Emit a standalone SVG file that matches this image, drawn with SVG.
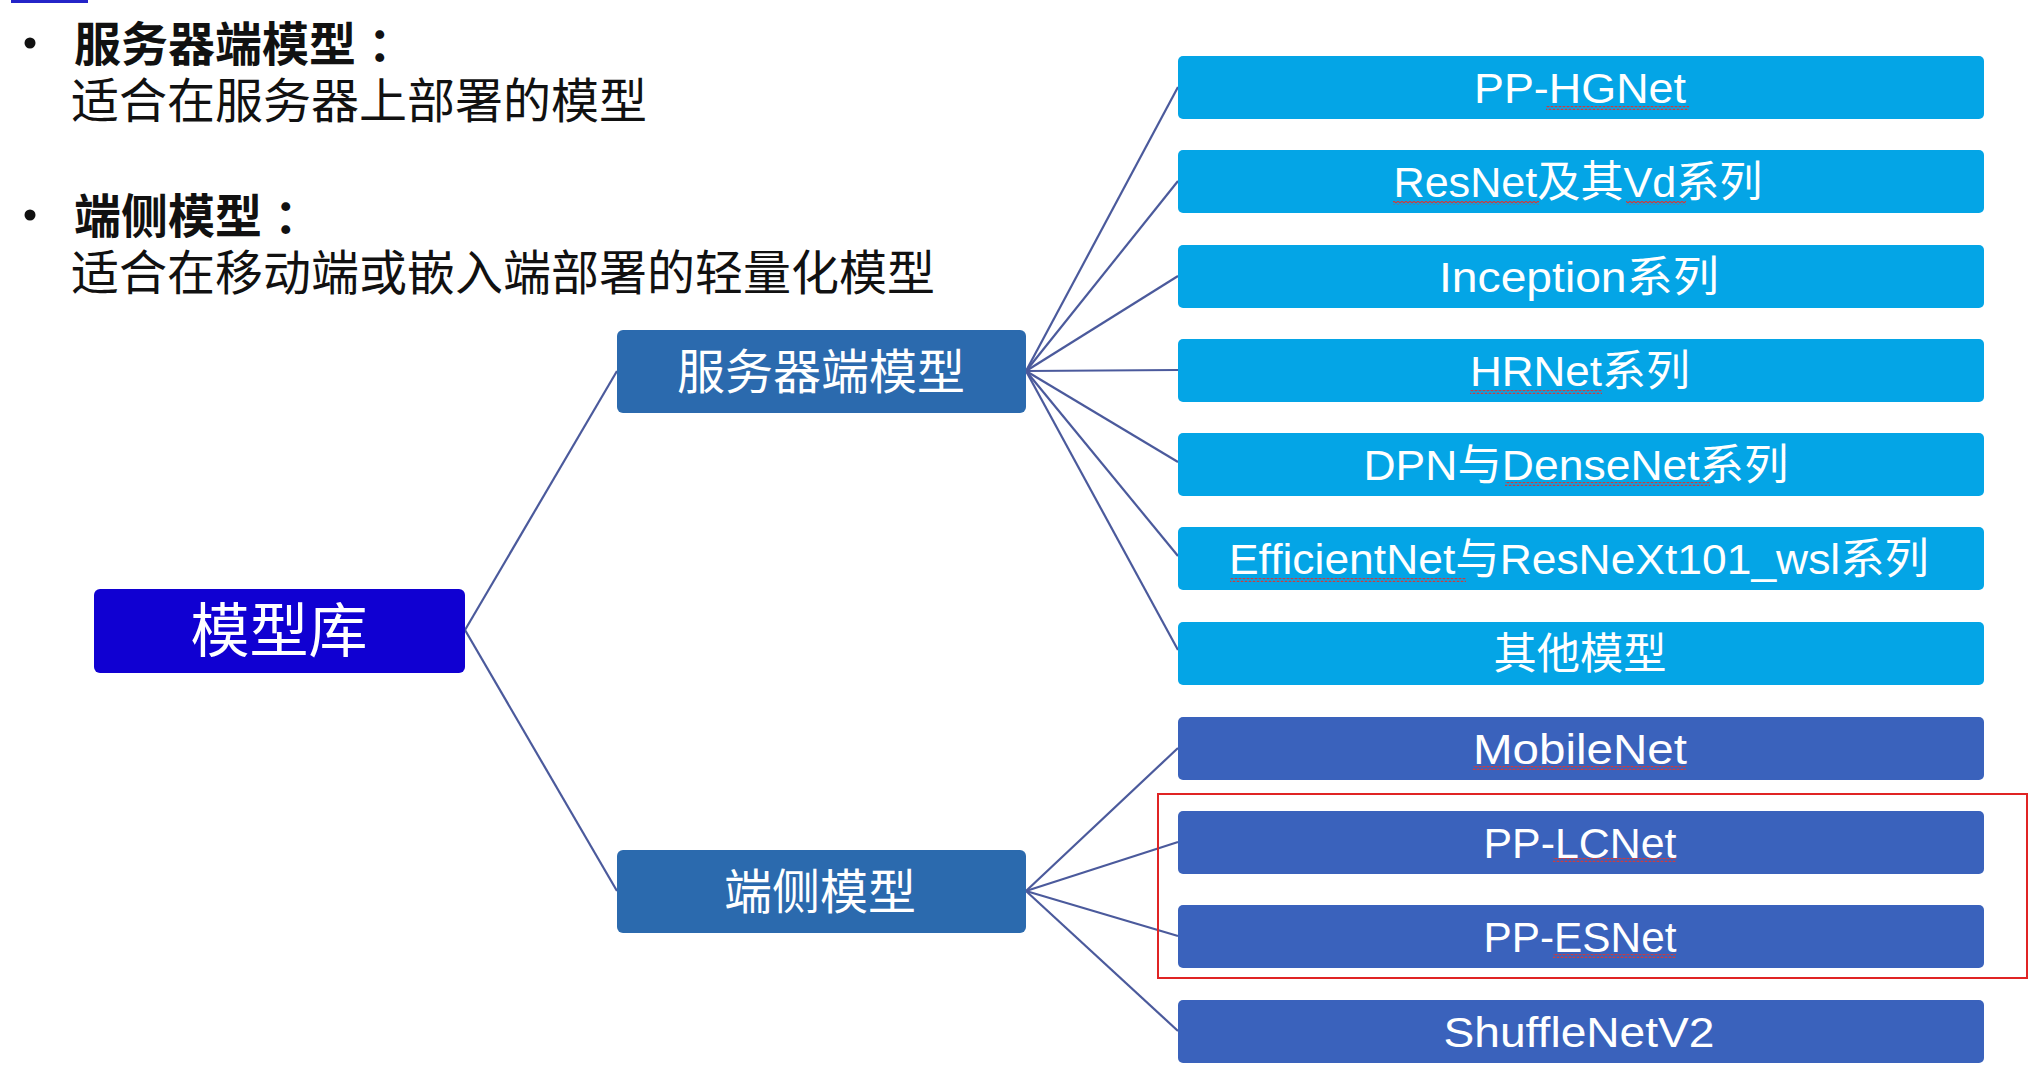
<svg xmlns="http://www.w3.org/2000/svg" width="2044" height="1088" viewBox="0 0 2044 1088">
<defs>
<style>
.cjk{font-family:"Noto Sans CJK SC","Noto Sans",sans-serif;fill:#111}
.hd{font-weight:bold;font-size:47px}
.rg{font-size:48px}
.lbl{font-family:"Liberation Sans","Noto Sans CJK SC",sans-serif;fill:#fff;font-size:43px;text-anchor:middle}
.mid{font-family:"Noto Sans CJK SC",sans-serif;fill:#fff;font-size:48px;text-anchor:middle}
.srv{fill:#04A5E6}
.edg{fill:#3A62BC}
.cat{fill:#2B6AAE}
.conn line{stroke:#4B5A9C;stroke-width:2.2}
.wv{fill:url(#wave)}
</style>
<pattern id="wave" width="4" height="4" patternUnits="userSpaceOnUse">
<path d="M0,3 L2,1 L4,3" stroke="#D23A3A" stroke-width="1.1" fill="none"/>
</pattern>
</defs>
<rect width="2044" height="1088" fill="#fff"/>
<rect x="11" y="0" width="77" height="3" fill="#2424C8"/>

<g id="notes">
<circle cx="30" cy="43" r="5.5" fill="#111"/>
<text class="cjk hd" x="74" y="61">服务器端模型<tspan dx="12">：</tspan></text>
<text class="cjk rg" x="71" y="118">适合在服务器上部署的模型</text>
<circle cx="30" cy="215" r="5.5" fill="#111"/>
<text class="cjk hd" x="74" y="233">端侧模型<tspan dx="12">：</tspan></text>
<text class="cjk rg" x="71" y="290">适合在移动端或嵌入端部署的轻量化模型</text>
</g>

<g id="connectors" class="conn">
<line x1="465" y1="630" x2="617" y2="371"/>
<line x1="465" y1="630" x2="617" y2="891"/>
<line x1="1026" y1="371" x2="1178" y2="87"/>
<line x1="1026" y1="371" x2="1178" y2="181"/>
<line x1="1026" y1="371" x2="1178" y2="276"/>
<line x1="1026" y1="371" x2="1178" y2="370"/>
<line x1="1026" y1="371" x2="1178" y2="462"/>
<line x1="1026" y1="371" x2="1178" y2="556"/>
<line x1="1026" y1="371" x2="1178" y2="650"/>
<line x1="1026" y1="891" x2="1178" y2="748"/>
<line x1="1026" y1="891" x2="1178" y2="842"/>
<line x1="1026" y1="891" x2="1178" y2="936"/>
<line x1="1026" y1="891" x2="1178" y2="1031"/>
</g>

<g id="root">
<rect x="94" y="589" width="371" height="84" rx="6" fill="#1000D2"/>
<text x="279" y="652" font-family="Noto Sans CJK SC, sans-serif" font-size="59" fill="#fff" text-anchor="middle">模型库</text>
</g>
<g id="server">
<rect class="cat" x="617" y="330" width="409" height="83" rx="6"/>
<text class="mid" x="821" y="389">服务器端模型</text>
</g>
<g id="edge">
<rect class="cat" x="617" y="850" width="409" height="83" rx="6"/>
<text class="mid" x="820" y="909">端侧模型</text>
</g>

<g id="pp-hgnet">
<rect class="srv" x="1178" y="56" width="806" height="63" rx="5"/>
<text class="lbl" x="1580" y="103" textLength="212" lengthAdjust="spacingAndGlyphs">PP-HGNet</text>
<rect class="wv" x="1546" y="106" width="143" height="4"/>
</g>
<g id="resnet">
<rect class="srv" x="1178" y="150" width="806" height="63" rx="5"/>
<text class="lbl" x="1578" y="197" textLength="369" lengthAdjust="spacingAndGlyphs">ResNet及其Vd系列</text>
<rect class="wv" x="1393" y="201" width="146" height="4"/>
<rect class="wv" x="1626" y="201" width="60" height="4"/>
</g>
<g id="inception">
<rect class="srv" x="1178" y="245" width="806" height="63" rx="5"/>
<text class="lbl" x="1579" y="292" textLength="280" lengthAdjust="spacingAndGlyphs">Inception系列</text>
</g>
<g id="hrnet">
<rect class="srv" x="1178" y="339" width="806" height="63" rx="5"/>
<text class="lbl" x="1580" y="386" textLength="220" lengthAdjust="spacingAndGlyphs">HRNet系列</text>
<rect class="wv" x="1470" y="390" width="132" height="4"/>
</g>
<g id="dpn">
<rect class="srv" x="1178" y="433" width="806" height="63" rx="5"/>
<text class="lbl" x="1576" y="480" textLength="425" lengthAdjust="spacingAndGlyphs">DPN与DenseNet系列</text>
<rect class="wv" x="1505" y="482" width="205" height="4"/>
</g>
<g id="efficientnet">
<rect class="srv" x="1178" y="527" width="806" height="63" rx="5"/>
<text class="lbl" x="1579" y="574" textLength="700" lengthAdjust="spacingAndGlyphs">EfficientNet与ResNeXt101_wsl系列</text>
<rect class="wv" x="1230" y="578" width="236" height="4"/>
</g>
<g id="others">
<rect class="srv" x="1178" y="622" width="806" height="63" rx="5"/>
<text class="lbl" x="1580" y="669" textLength="173" lengthAdjust="spacingAndGlyphs">其他模型</text>
</g>

<g id="mobilenet">
<rect class="edg" x="1178" y="717" width="806" height="63" rx="5"/>
<text class="lbl" x="1580" y="764" textLength="214" lengthAdjust="spacingAndGlyphs">MobileNet</text>
<rect class="wv" x="1473" y="766" width="213" height="4"/>
</g>
<g id="pp-lcnet">
<rect class="edg" x="1178" y="811" width="806" height="63" rx="5"/>
<text class="lbl" x="1580" y="858" textLength="193" lengthAdjust="spacingAndGlyphs">PP-LCNet</text>
<rect class="wv" x="1553" y="858" width="123" height="4"/>
</g>
<g id="pp-esnet">
<rect class="edg" x="1178" y="905" width="806" height="63" rx="5"/>
<text class="lbl" x="1580" y="952" textLength="193" lengthAdjust="spacingAndGlyphs">PP-ESNet</text>
<rect class="wv" x="1553" y="954" width="123" height="4"/>
</g>
<g id="shufflenetv2">
<rect class="edg" x="1178" y="1000" width="806" height="63" rx="5"/>
<text class="lbl" x="1579" y="1047" textLength="271" lengthAdjust="spacingAndGlyphs">ShuffleNetV2</text>
</g>

<rect id="highlight" x="1158" y="794" width="869" height="184" fill="none" stroke="#E02424" stroke-width="2"/>
</svg>
